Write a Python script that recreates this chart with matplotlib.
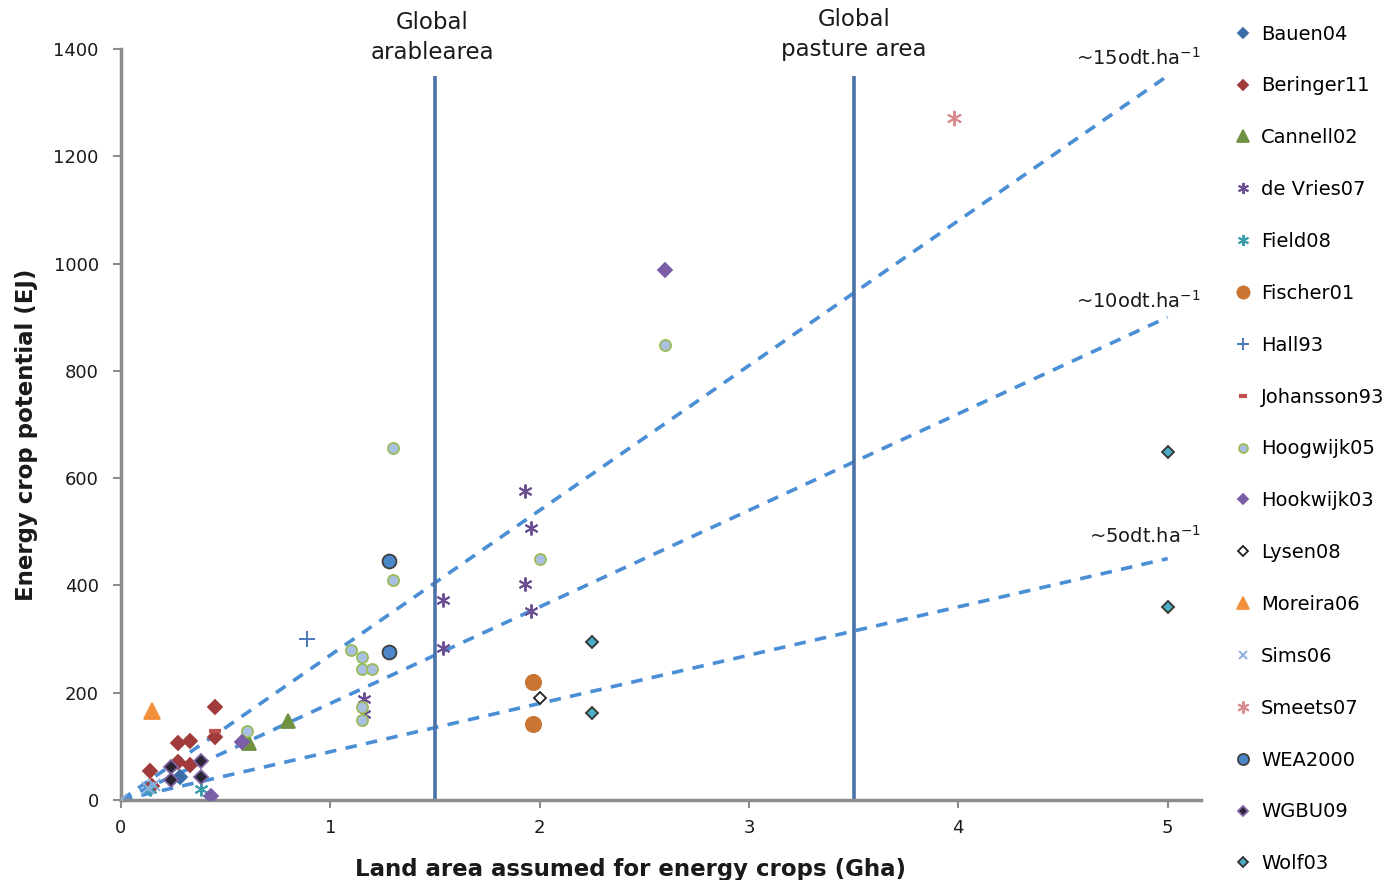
import matplotlib.pyplot as plt

# data (Gha, EJ)
bauen_x = [0.28]
bauen_y = [42]
beringer_x = [0.14, 0.27, 0.33, 0.27, 0.33, 0.45, 0.45, 0.15]
beringer_y = [55, 107, 110, 71, 65, 117, 174, 27]
cannell_x = [0.61, 0.80]
cannell_y = [107, 148]
devries_x = [1.93, 1.96, 1.93, 1.96, 1.54, 1.54, 1.16, 1.16]
devries_y = [576, 508, 402, 353, 373, 283, 188, 160]
field_x = [0.38, 0.14]
field_y = [20, 20]
fischer_x = [1.97, 1.97]
fischer_y = [220, 142]
hall_x = [0.89]
hall_y = [300]
johansson_x = [0.45]
johansson_y = [128]
hoogwijk05_x = [1.30, 1.30, 1.10, 1.15, 1.15, 1.20, 1.15, 1.15, 2.00, 2.60, 0.60]
hoogwijk05_y = [656, 410, 280, 266, 244, 244, 173, 149, 449, 848, 129]
hookwijk03_x = [2.60, 0.58, 0.43]
hookwijk03_y = [988, 109, 8]
lysen_x = [2.00]
lysen_y = [191]
moreira_x = [0.15]
moreira_y = [165]
sims_x = [0.0, 0.13, 0.16]
sims_y = [0, 22, 28]
smeets_x = [3.98]
smeets_y = [1272]
wea_x = [1.28, 1.28]
wea_y = [446, 276]
wgbu_x = [0.24, 0.24, 0.38, 0.38]
wgbu_y = [61, 37, 73, 42]
wolf_x = [2.25, 2.25, 5.0, 5.0]
wolf_y = [295, 163, 649, 360]

# yield lines: EJ per Gha for ~15, 10, 5 odt/ha
yield_labels = ['~15odt.ha$^{-1}$', '~10odt.ha$^{-1}$', '~5odt.ha$^{-1}$']
yield_slopes = [270, 180, 90]
yield_label_y = [1383, 930, 492]

# label, x, y, marker, size, face, edge
series = [
    ('Bauen04', bauen_x, bauen_y, 'D', 7, '#3b6ea8', '#3b6ea8'),
    ('Beringer11', beringer_x, beringer_y, 'D', 7, '#a13a3a', '#a13a3a'),
    ('Cannell02', cannell_x, cannell_y, '^', 10, '#6f9140', '#6f9140'),
    ('de Vries07', devries_x, devries_y, (6, 2, 0), 10, 'none', '#6a4f92'),
    ('Field08', field_x, field_y, (6, 2, 0), 10, 'none', '#3a9bab'),
    ('Fischer01', fischer_x, fischer_y, 'o', 11, '#c97634', '#c97634'),
    ('Hall93', hall_x, hall_y, '+', 11, '#4a7ab8', '#4a7ab8'),
    ('Johansson93', johansson_x, johansson_y, '_', 8, '#c0504d', '#c0504d'),
    ('Hoogwijk05', hoogwijk05_x, hoogwijk05_y, 'o', 8, '#a9c0e2', '#9bbb59'),
    ('Hookwijk03', hookwijk03_x, hookwijk03_y, 'D', 7, '#7b5ea8', '#7b5ea8'),
    ('Lysen08', lysen_x, lysen_y, 'D', 6.5, 'white', '#222222'),
    ('Moreira06', moreira_x, moreira_y, '^', 11, '#f2913d', '#f2913d'),
    ('Sims06', sims_x, sims_y, 'x', 8, 'none', '#8eb0de'),
    ('Smeets07', smeets_x, smeets_y, (6, 2, 0), 11, 'none', '#d98a8c'),
    ('WEA2000', wea_x, wea_y, 'o', 10, '#4a86c8', '#404040'),
    ('WGBU09', wgbu_x, wgbu_y, 'D', 7, '#2a2433', '#8064a2'),
    ('Wolf03', wolf_x, wolf_y, 'D', 6.5, '#4bacc6', '#333333'),
]

plt.rcParams['font.family'] = 'DejaVu Sans'
fig = plt.figure(figsize=(13.86, 8.8), dpi=100)
ax = fig.add_axes([0.0873, 0.0909, 0.7793, 0.8534])

# yield lines
for slope, lab, ly in zip(yield_slopes, yield_labels, yield_label_y):
    ax.plot([0, 5], [0, 5 * slope], ls=(0, (3.2, 2.6)), color='#4a8ed6', lw=2.6, zorder=1)
    ax.text(5.16, ly, lab, ha='right', va='center', fontsize=14, color='#1a1a1a')

# global area lines
ax.vlines([1.5, 3.5], 0, 1350, color='#4a72a8', lw=2.6, zorder=1)
ax.text(1.487, 1421, 'Global\narablearea', ha='center', va='center', fontsize=16.5,
        linespacing=1.4, color='#1a1a1a', clip_on=False)
ax.text(3.5, 1427, 'Global\npasture area', ha='center', va='center', fontsize=16.5,
        linespacing=1.4, color='#1a1a1a', clip_on=False)

for lab, xs, ys, mk, ms, fc, ec in series:
    lw = 1.4 if mk in ('x', '+') or isinstance(mk, tuple) else 1.3
    if mk == '_':
        lw = 3
    ax.plot(xs, ys, ls='none', marker=mk, markersize=ms, markerfacecolor=fc,
            markeredgecolor=ec, markeredgewidth=lw, label=lab, zorder=3)

ax.set_xlim(0, 5.16)
ax.set_ylim(0, 1400)
ax.set_xticks([0, 1, 2, 3, 4, 5])
ax.set_yticks(range(0, 1401, 200))
for s in ['top', 'right']:
    ax.spines[s].set_visible(False)
for s in ['left', 'bottom']:
    ax.spines[s].set_color('#8c8c8c')
    ax.spines[s].set_linewidth(2.5)
ax.tick_params(axis='both', colors='#8c8c8c', labelcolor='#1a1a1a', labelsize=13,
               length=6, width=1.5)
ax.tick_params(axis='y', pad=10)
ax.tick_params(axis='x', pad=8)

ax.set_xlabel('Land area assumed for energy crops (Gha)', fontsize=16.5, fontweight='bold',
              color='#1a1a1a')
ax.set_ylabel('Energy crop potential (EJ)', fontsize=16.5, fontweight='bold',
              color='#1a1a1a')
ax.xaxis.set_label_coords(0.472, -0.077)
ax.yaxis.set_label_coords(-0.077, 0.486)

ax.legend(loc='upper left', bbox_to_anchor=(1.023, 1.043), frameon=False, fontsize=14,
          labelspacing=1.69, handlelength=1.0, handletextpad=0.4, markerscale=0.8,
          borderaxespad=0)

fig.savefig('out.png', dpi=100)
